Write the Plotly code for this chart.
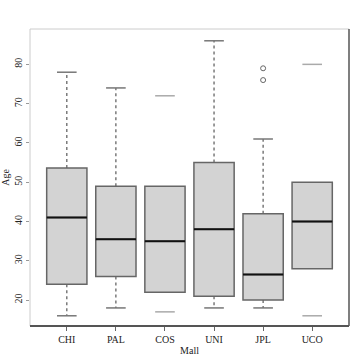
import plotly.graph_objects as go

malls = ["CHI", "PAL", "COS", "UNI", "JPL", "UCO"]
q1 = [24, 26, 22, 21, 20, 28]
median = [41, 35.5, 35, 38, 26.5, 40]
q3 = [53.6, 49, 49, 55, 42, 50]
upper_whisker = [78, 74, 72, 86, 61, 80]
lower_whisker = [16, 18, 17, 18, 18, 16]
show_whisker = [True, True, False, True, True, False]
outlier_mall = ["JPL", "JPL"]
outlier_age = [76, 79]

xs = list(range(len(malls)))
fig = go.Figure()

fig.add_trace(go.Box(
    x=xs, q1=q1, median=median, q3=q3, lowerfence=q1, upperfence=q3,
    fillcolor="#d3d3d3", line=dict(color="#666666", width=1.5),
    width=0.82, whiskerwidth=0, boxpoints=False, showlegend=False, hoverinfo="skip"))

# whiskers (dotted)
wx, wy = [], []
for i, (a, b, lo, hi, s) in enumerate(zip(q1, q3, lower_whisker, upper_whisker, show_whisker)):
    if s:
        wx += [i, i, None, i, i, None]
        wy += [b, hi, None, a, lo, None]
fig.add_trace(go.Scatter(x=wx, y=wy, mode="lines", line=dict(color="#666666", width=1.3, dash="dot"),
                         showlegend=False, hoverinfo="skip"))

# caps
for shown, col in [(True, "#777777"), (False, "#aaaaaa")]:
    cx, cy = [], []
    for i, (lo, hi, s) in enumerate(zip(lower_whisker, upper_whisker, show_whisker)):
        if s == shown:
            cx += [i - 0.2, i + 0.2, None, i - 0.2, i + 0.2, None]
            cy += [hi, hi, None, lo, lo, None]
    fig.add_trace(go.Scatter(x=cx, y=cy, mode="lines", line=dict(color=col, width=1.5),
                             showlegend=False, hoverinfo="skip"))

# medians
mx, my = [], []
for i, m in enumerate(median):
    mx += [i - 0.41, i + 0.41, None]
    my += [m, m, None]
fig.add_trace(go.Scatter(x=mx, y=my, mode="lines", line=dict(color="#111111", width=2),
                         showlegend=False, hoverinfo="skip"))

# outliers
fig.add_trace(go.Scatter(x=[malls.index(m) for m in outlier_mall], y=outlier_age, mode="markers",
                         marker=dict(symbol="circle-open", size=5, color="#666666", line=dict(width=1)),
                         showlegend=False, hoverinfo="skip"))

font = "Liberation Serif"
fig.update_layout(
    width=364, height=364, margin=dict(l=30, r=15, t=29, b=38, autoexpand=False),
    paper_bgcolor="white", plot_bgcolor="white",
    font=dict(family=font, size=10, color="#222222"),
    xaxis=dict(range=[-0.75, 5.75], tickvals=xs, ticktext=malls, showgrid=False, zeroline=False,
               automargin=False, ticks="outside", ticklen=4, tickcolor="#666666",
               title=dict(text="Mall", font=dict(size=10), standoff=2)),
    yaxis=dict(range=[13.4, 89], tickvals=[20, 30, 40, 50, 60, 70, 80], showgrid=False, zeroline=False,
               automargin=False, ticks="outside", ticklen=3, tickcolor="#999999", tickangle=-90,
               title=dict(text="Age", font=dict(size=10), standoff=2)),
    shapes=[
        dict(type="line", xref="paper", yref="paper", x0=0, x1=0, y0=0, y1=1, line=dict(color="#cccccc", width=1)),
        dict(type="line", xref="paper", yref="paper", x0=0, x1=1, y0=1, y1=1, line=dict(color="#cccccc", width=1)),
        dict(type="line", xref="paper", yref="paper", x0=1, x1=1, y0=0, y1=1, line=dict(color="#555555", width=1.5)),
        dict(type="line", xref="paper", yref="paper", x0=0, x1=1, y0=0, y1=0, line=dict(color="#555555", width=2)),
    ],
)

fig.write_html("out.html", config={"displayModeBar": False, "staticPlot": True},
               post_script="document.body.style.margin='0';document.body.style.overflow='hidden';")
